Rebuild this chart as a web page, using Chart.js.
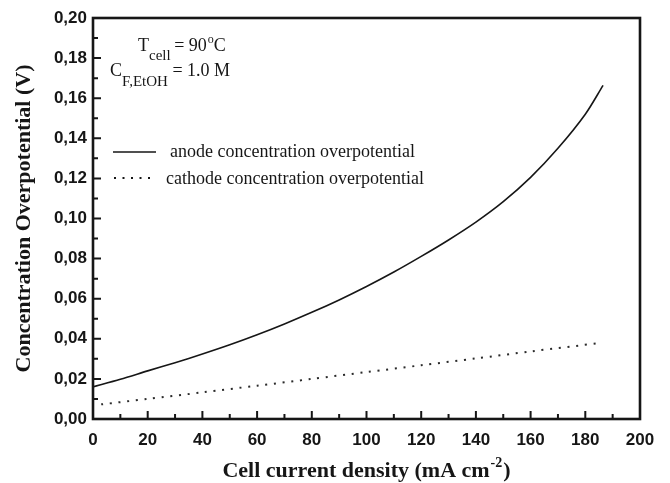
<!DOCTYPE html>
<html>
<head>
<meta charset="utf-8">
<script src="https://cdn.jsdelivr.net/npm/chart.js@4.4.0/dist/chart.umd.min.js"></script>
<style>
  html, body { margin: 0; padding: 0; background: #fff; }
</style>
</head>
<body>
<canvas id="chart" width="670" height="483"></canvas>
<script>
'use strict';

// Data
// --------------------------------------------------------------------
const anodeX = [0, 10, 20, 30, 40, 50, 60, 70, 80, 90, 100, 110, 120, 130, 140, 150, 160, 170, 180, 186.5];
const anodeY = [0.0160, 0.0198, 0.0240, 0.0281, 0.0324, 0.0370, 0.0420, 0.0474, 0.0532, 0.0594,
                0.0661, 0.0733, 0.0811, 0.0893, 0.0982, 0.1084, 0.1205, 0.1350, 0.1520, 0.1664];

const cathodeX = [3, 20, 40, 60, 80, 100, 120, 140, 160, 186];
const cathodeY = [0.0073, 0.0100, 0.0133, 0.0166, 0.0200, 0.0234, 0.0268, 0.0302, 0.0337, 0.0380];

const xMajor = [0, 20, 40, 60, 80, 100, 120, 140, 160, 180, 200];
const xMajorLabels = ['0', '20', '40', '60', '80', '100', '120', '140', '160', '180', '200'];
const xMinor = [10, 30, 50, 70, 90, 110, 130, 150, 170, 190];

const yMajor = [0, 0.02, 0.04, 0.06, 0.08, 0.10, 0.12, 0.14, 0.16, 0.18, 0.20];
const yMajorLabels = ['0,00', '0,02', '0,04', '0,06', '0,08', '0,10', '0,12', '0,14', '0,16', '0,18', '0,20'];
const yMinor = [0.01, 0.03, 0.05, 0.07, 0.09, 0.11, 0.13, 0.15, 0.17, 0.19];

const seriesNames = ['anode concentration overpotential', 'cathode concentration overpotential'];

const serif = "'Liberation Serif', 'Times New Roman', serif";
const sans = "'Liberation Sans', Arial, sans-serif";
const ink = '#161616';

// draw a run of text pieces with sub/superscripts
function drawRuns(ctx, x, y, runs, weight) {
  runs.forEach(function (r) {
    ctx.font = (weight || 'normal') + ' ' + r.size + 'px ' + serif;
    ctx.fillText(r.t, x + (r.dx || 0), y + (r.dy || 0));
    x += (r.dx || 0) + ctx.measureText(r.t).width;
  });
}

function runsWidth(ctx, runs, weight) {
  let w = 0;
  runs.forEach(function (r) {
    ctx.font = (weight || 'normal') + ' ' + r.size + 'px ' + serif;
    w += (r.dx || 0) + ctx.measureText(r.t).width;
  });
  return w;
}

// Frame, inward ticks, legend and annotations
// --------------------------------------------------------------------
const decorPlugin = {
  id: 'decor',
  afterDatasetsDraw(chart) {
    const ctx = chart.ctx, a = chart.chartArea, x = chart.scales.x, y = chart.scales.y;
    ctx.save();
    ctx.strokeStyle = ink;
    ctx.lineCap = 'butt';

    ctx.lineWidth = 2;
    ctx.beginPath();
    xMajor.forEach(function (v) { const p = x.getPixelForValue(v); ctx.moveTo(p, a.bottom); ctx.lineTo(p, a.bottom - 8); });
    xMinor.forEach(function (v) { const p = x.getPixelForValue(v); ctx.moveTo(p, a.bottom); ctx.lineTo(p, a.bottom - 5); });
    yMajor.forEach(function (v) { const p = y.getPixelForValue(v); ctx.moveTo(a.left, p); ctx.lineTo(a.left + 8, p); });
    yMinor.forEach(function (v) { const p = y.getPixelForValue(v); ctx.moveTo(a.left, p); ctx.lineTo(a.left + 5, p); });
    ctx.stroke();

    ctx.lineWidth = 2.6;
    ctx.strokeRect(a.left, a.top, a.right - a.left, a.bottom - a.top);

    // legend
    ctx.fillStyle = ink;
    ctx.textBaseline = 'alphabetic';
    ctx.lineWidth = 1.6;
    ctx.beginPath();
    ctx.moveTo(113, 152); ctx.lineTo(156, 152);
    ctx.stroke();
    ctx.lineWidth = 2;
    ctx.setLineDash([2, 6.5]);
    ctx.beginPath();
    ctx.moveTo(114, 178); ctx.lineTo(156, 178);
    ctx.stroke();
    ctx.setLineDash([]);
    ctx.font = '18px ' + serif;
    ctx.fillText(seriesNames[0], 170, 157);
    ctx.fillText(seriesNames[1], 166, 184);

    // conditions
    drawRuns(ctx, 138, 51, [
      { t: 'T', size: 18 },
      { t: 'cell', size: 15, dy: 9 },
      { t: ' = 90', size: 18, dx: -1 },
      { t: 'o', size: 12, dy: -8, dx: 1 },
      { t: 'C', size: 18 }
    ]);
    drawRuns(ctx, 110, 76, [
      { t: 'C', size: 18 },
      { t: 'F,EtOH', size: 15, dy: 10 },
      { t: ' = 1.0 M', size: 18, dx: 0 }
    ]);

    // x axis title with superscript
    const titleRuns = [
      { t: 'Cell current density (mA cm', size: 22 },
      { t: '-2', size: 14, dy: -10, dx: 1 },
      { t: ')', size: 22, dx: 1 }
    ];
    const tw = runsWidth(ctx, titleRuns, 'bold');
    drawRuns(ctx, (a.left + a.right) / 2 - tw / 2, 477, titleRuns, 'bold');

    ctx.restore();
  }
};

const ctxMain = document.getElementById('chart');

new Chart(ctxMain, {
  type: 'line',
  data: {
    datasets: [
      {
        label: seriesNames[0],
        data: anodeX.map(function (v, i) { return { x: v, y: anodeY[i] }; }),
        borderColor: ink,
        borderWidth: 1.6,
        pointRadius: 0,
        fill: false,
        tension: 0.3
      },
      {
        label: seriesNames[1],
        data: cathodeX.map(function (v, i) { return { x: v, y: cathodeY[i] }; }),
        borderColor: '#2a2a2a',
        borderWidth: 2,
        borderDash: [2, 6.7],
        borderCapStyle: 'butt',
        pointRadius: 0,
        fill: false,
        tension: 0.3
      }
    ]
  },
  options: {
    responsive: false,
    devicePixelRatio: 1,
    animation: false,
    layout: { padding: { left: 0, top: 18, right: 30, bottom: 0 } },
    plugins: {
      legend: { display: false },
      tooltip: { enabled: false }
    },
    scales: {
      x: {
        type: 'linear',
        min: 0,
        max: 200,
        afterBuildTicks: function (s) { s.ticks = xMajor.map(function (v) { return { value: v }; }); },
        afterFit: function (s) { s.height = 64; },
        grid: { display: false, drawTicks: false },
        border: { display: false },
        ticks: {
          padding: 11,
          color: ink,
          font: { family: sans, size: 17, weight: 'bold' },
          maxRotation: 0,
          callback: function (v) { const i = xMajor.indexOf(v); return i >= 0 ? xMajorLabels[i] : ''; }
        }
      },
      y: {
        min: 0,
        max: 0.2,
        afterBuildTicks: function (s) { s.ticks = yMajor.map(function (v) { return { value: v }; }); },
        afterFit: function (s) { s.width = 93; },
        grid: { display: false, drawTicks: false },
        border: { display: false },
        title: {
          display: true,
          text: 'Concentration Overpotential (V)',
          color: ink,
          padding: { top: 11, bottom: 0 },
          font: { family: serif, size: 22, weight: 'bold' }
        },
        ticks: {
          padding: 6,
          color: ink,
          font: { family: sans, size: 17, weight: 'bold' },
          callback: function (v) {
            const i = yMajor.findIndex(function (m) { return Math.abs(m - v) < 1e-9; });
            return i >= 0 ? yMajorLabels[i] : '';
          }
        }
      }
    }
  },
  plugins: [decorPlugin]
});
</script>
</body>
</html>
